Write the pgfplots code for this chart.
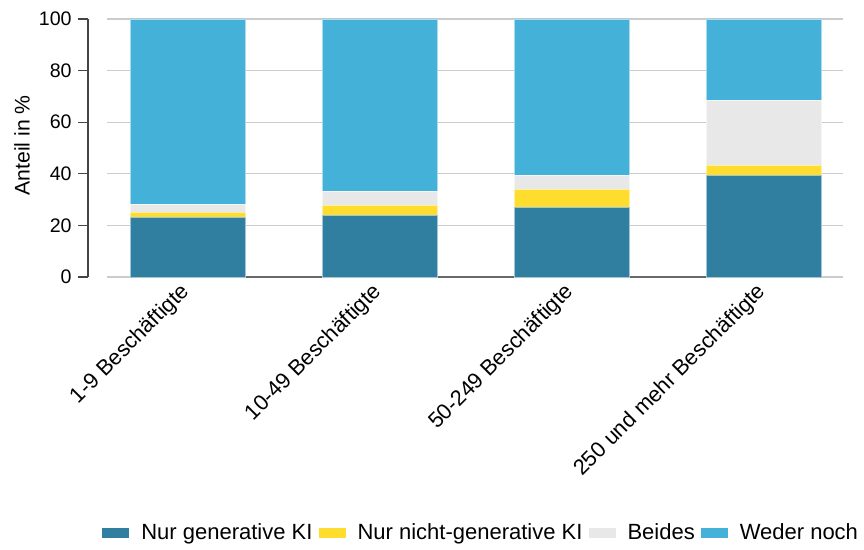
\documentclass[border=0pt]{standalone}
\usepackage{pgfplots}
\pgfplotsset{compat=1.18}
\usepackage{fontspec}
\setmainfont{Liberation Sans}
\definecolor{cDark}{HTML}{317FA0}
\definecolor{cYel}{HTML}{FEDD2E}
\definecolor{cGray}{HTML}{E8E8E8}
\definecolor{cBlue}{HTML}{44B1D9}
\definecolor{cGrid}{HTML}{CCCCCC}
\definecolor{cAxis}{HTML}{444444}
\begin{document}
\begin{tikzpicture}
\begin{axis}[
  scale only axis,
  width=368pt, height=129pt,
  xmin=-0.42, xmax=3.41,
  ymin=0, ymax=100,
  ybar stacked,
  bar width=0.6,
  axis y line*=left,
  axis x line*=bottom,
  x axis line style={draw=none},
  y axis line style={draw=cAxis, line width=0.6pt, xshift=-9.5pt},
  ytick={0,20,40,60,80,100},
  ytick style={draw=cAxis, line width=0.6pt, xshift=-9.5pt},
  yticklabel style={xshift=-9.5pt, font=\fontsize{9.8}{12}\selectfont, inner sep=0pt, anchor=east, xshift=-3pt},
  tick align=outside,
  major tick length=5pt,
  xtick={0,1,2,3},
  xticklabels={1-9 Beschäftigte,10-49 Beschäftigte,50-249 Beschäftigte,250 und mehr Beschäftigte},
  major x tick style={draw=none},
  xticklabel style={rotate=45, anchor=east, font=\fontsize{10.9}{13}\selectfont, inner sep=1pt},
  /pgf/number format/assume math mode=true,
  ymajorgrids,
  grid style={draw=cGrid, line width=0.6pt},
  ylabel={Anteil in \%},
  every axis y label/.style={at={(axis description cs:-0.1155,0.51)}, rotate=90, anchor=center, font=\fontsize{10.6}{12}\selectfont},
  clip=false,
  legend columns=4,
  legend style={draw=none, at={(0.507,-0.992)}, anchor=center, font=\fontsize{11}{13}\selectfont,
    /tikz/every even column/.append style={column sep=3pt},
    /tikz/every odd column/.append style={column sep=6pt},
    nodes={inner sep=0pt}},
  legend image code/.code={\fill[#1,draw=none] (0pt,-2.5pt) rectangle (13.5pt,2.5pt);},
]
\addplot[fill=cDark, draw=white!55!cDark, line width=0.4pt] coordinates {(0,23) (1,24) (2,27) (3,39.3)};
\addplot[fill=cYel, draw=white!55!cYel, line width=0.4pt] coordinates {(0,2) (1,3.8) (2,7.1) (3,4)};
\addplot[fill=cGray, draw=white!55!cGray, line width=0.4pt] coordinates {(0,3.2) (1,5.3) (2,5.2) (3,25.3)};
\addplot[fill=cBlue, draw=white!55!cBlue, line width=0.4pt] coordinates {(0,71.8) (1,66.9) (2,60.7) (3,31.4)};
\legend{Nur generative KI,Nur nicht-generative KI,Beides,Weder noch}
\draw[cAxis!80, line width=0.6pt] (axis cs:0,0) -- (axis cs:3,0);
\path (rel axis cs:-0.1454,-1.058) rectangle (rel axis cs:1.0285,1.0736);
\end{axis}
\end{tikzpicture}
\end{document}
